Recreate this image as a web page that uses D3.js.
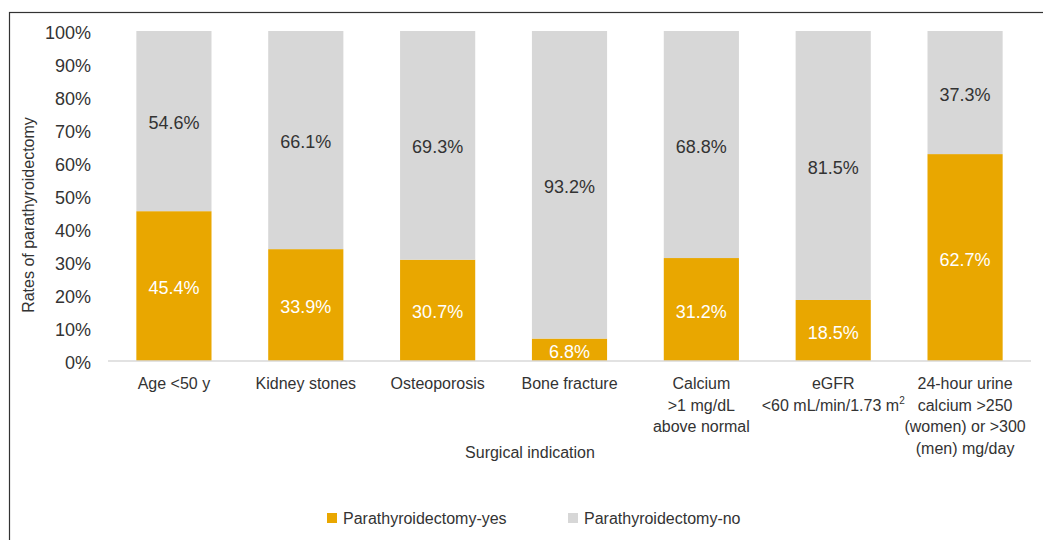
<!DOCTYPE html>
<html>
<head>
<meta charset="utf-8">
<script src="https://cdn.jsdelivr.net/npm/d3@7/dist/d3.min.js"></script>
<style>
  html, body { margin: 0; padding: 0; background: #fff; }
  svg { display: block; font-family: "Liberation Sans", Arial, Helvetica, sans-serif; }
</style>
</head>
<body>
<svg id="chart" width="1043" height="540"></svg>
<script>
// ---- data ----
const categories = ["Age <50 y", "Kidney stones", "Osteoporosis", "Bone fracture", "Calcium", "eGFR", "24-hour urine"];
const categoryLines = [
  ["Age <50 y"],
  ["Kidney stones"],
  ["Osteoporosis"],
  ["Bone fracture"],
  ["Calcium", ">1 mg/dL", "above normal"],
  ["eGFR", "<60 mL/min/1.73 m|2"],
  ["24-hour urine", "calcium >250", "(women) or >300", "(men) mg/day"]
];
const yesValues = [45.4, 33.9, 30.7, 6.8, 31.2, 18.5, 62.7];
const noValues = [54.6, 66.1, 69.3, 93.2, 68.8, 81.5, 37.3];
const seriesNames = ["Parathyroidectomy-yes", "Parathyroidectomy-no"];
const yTicks = [0, 10, 20, 30, 40, 50, 60, 70, 80, 90, 100];

// ---- styles ----
const colorYes = "#E9A700";
const colorNo = "#D7D7D7";
const textColor = "#333333";

const svg = d3.select("#chart");

// frame
svg.append("rect")
  .attr("x", 9.5).attr("y", 12.5)
  .attr("width", 1200).attr("height", 700)
  .attr("fill", "none").attr("stroke", "#333").attr("stroke-width", 1.2);

const x = d3.scaleBand().domain(categories).range([108, 1031]).paddingInner(0.43).paddingOuter(0.215);
const y = d3.scaleLinear().domain([0, 100]).range([361, 31]);

const data = categories.map((c, i) => ({ cat: c, yes: yesValues[i], no: noValues[i] }));
const stack = d3.stack().keys(["yes", "no"])(data);
const colors = { yes: colorYes, no: colorNo };

// bars
stack.forEach(layer => {
  svg.append("g").selectAll("rect").data(layer).join("rect")
    .attr("x", d => x(d.data.cat))
    .attr("width", x.bandwidth())
    .attr("y", d => y(d[1]))
    .attr("height", d => y(d[0]) - y(d[1]))
    .attr("fill", colors[layer.key]);
});

// baseline
svg.append("line")
  .attr("x1", x.range()[0]).attr("x2", x.range()[1])
  .attr("y1", y(0)).attr("y2", y(0))
  .attr("stroke", "#D9D9D9").attr("stroke-width", 1.5);

// data labels
stack.forEach(layer => {
  svg.append("g").selectAll("text").data(layer).join("text")
    .attr("x", d => x(d.data.cat) + x.bandwidth() / 2)
    .attr("y", d => (y(d[0]) + y(d[1])) / 2)
    .attr("dy", "0.45em")
    .attr("text-anchor", "middle")
    .attr("font-size", 18)
    .attr("fill", layer.key === "yes" ? "#ffffff" : textColor)
    .text(d => d.data[layer.key].toFixed(1) + "%");
});

// y axis
const yAxis = svg.append("g")
  .attr("transform", "translate(91,0)")
  .call(d3.axisLeft(y).tickValues(yTicks).tickSize(0).tickPadding(0).tickFormat(d => d + "%"));
yAxis.select(".domain").remove();
yAxis.selectAll("text")
  .attr("font-size", 18)
  .attr("dy", "0.43em")
  .attr("font-family", "Liberation Sans, Arial, sans-serif")
  .attr("fill", textColor);

// y axis title
svg.append("text")
  .attr("transform", "translate(34,215) rotate(-90)")
  .attr("text-anchor", "middle")
  .attr("font-size", 16)
  .attr("fill", textColor)
  .text("Rates of parathyroidectomy");

// x category labels
const xl = svg.append("g");
categories.forEach((c, i) => {
  const cx = x(c) + x.bandwidth() / 2;
  categoryLines[i].forEach((line, j) => {
    const t = xl.append("text")
      .attr("x", cx)
      .attr("y", 389 + j * 21.5)
      .attr("text-anchor", "middle")
      .attr("font-size", 16)
      .attr("fill", textColor);
    const parts = line.split("|");
    t.append("tspan").text(parts[0]);
    if (parts[1]) {
      t.append("tspan").attr("font-size", 10).attr("dy", -7).text(parts[1]);
    }
  });
});

// x axis title
svg.append("text")
  .attr("x", 530).attr("y", 458)
  .attr("text-anchor", "middle")
  .attr("font-size", 16)
  .attr("fill", textColor)
  .text("Surgical indication");

// legend
const legendX = [327, 568];
seriesNames.forEach((name, i) => {
  const g = svg.append("g").attr("transform", `translate(${legendX[i]},513)`);
  g.append("rect").attr("width", 10).attr("height", 10).attr("fill", i === 0 ? colorYes : colorNo);
  g.append("text").attr("x", 16).attr("y", 10.5)
    .attr("font-size", 16).attr("fill", textColor).text(name);
});
</script>
</body>
</html>
